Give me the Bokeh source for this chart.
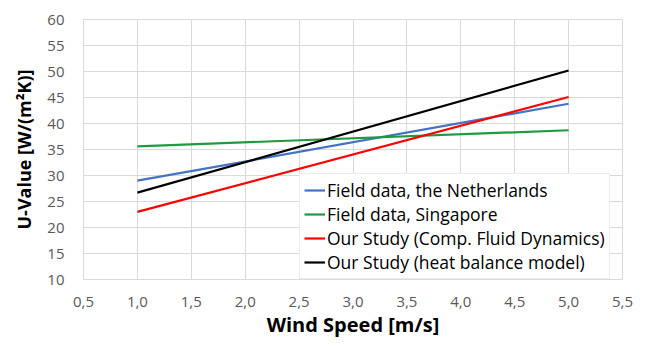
from bokeh.plotting import figure
from bokeh.models import FixedTicker, Range1d, Legend, LegendItem
from bokeh.embed import file_html
from bokeh.resources import INLINE

# ---- data ----
wind_speed = [1.0, 5.0]
netherlands = [29.0, 43.8]
singapore = [35.6, 38.7]
cfd = [23.0, 45.1]
heat_balance = [26.7, 50.2]

series_names = [
    "Field data, the Netherlands",
    "Field data, Singapore",
    "Our Study (Comp. Fluid Dynamics)",
    "Our Study (heat balance model)",
]

x_ticks = [0.5, 1.0, 1.5, 2.0, 2.5, 3.0, 3.5, 4.0, 4.5, 5.0, 5.5]
x_tick_labels = ["0,5", "1,0", "1,5", "2,0", "2,5", "3,0", "3,5", "4,0", "4,5", "5,0", "5,5"]
y_ticks = [10, 15, 20, 25, 30, 35, 40, 45, 50, 55, 60]

x_title = "Wind Speed [m/s]"
y_title = "U-Value [W/(m\u00b2K)]"

colors = ["#4472C4", "#1E9B3F", "#FF0000", "#000000"]

FONT = "Open Sans"

p = figure(width=649, height=345, output_backend="svg", toolbar_location=None,
           x_range=Range1d(0.5, 5.5), y_range=Range1d(10, 60),
           min_border_left=83, min_border_right=27, min_border_top=19, min_border_bottom=66)

p.background_fill_color = "white"
p.border_fill_color = "white"
p.outline_line_color = "#d9d9d9"
p.outline_line_width = 1

for ax in (p.xaxis[0], p.yaxis[0]):
    ax.axis_line_color = None
    ax.major_tick_line_color = None
    ax.minor_tick_line_color = None
    ax.major_tick_out = 0
    ax.major_tick_in = 0
    ax.minor_tick_out = 0
    ax.minor_tick_in = 0
    ax.major_label_text_color = "#595959"
    ax.major_label_text_font = FONT
    ax.major_label_text_font_size = "15px"
    ax.axis_label_text_font = FONT
    ax.axis_label_text_font_style = "bold"
    ax.axis_label_text_color = "#000000"

p.xaxis.ticker = FixedTicker(ticks=x_ticks)
p.xaxis.major_label_overrides = dict(zip(x_ticks, x_tick_labels))
p.xaxis.major_label_standoff = 17
p.xaxis.axis_label = x_title
p.xaxis.axis_label_text_font_size = "20px"
p.xaxis.axis_label_standoff = 1

p.yaxis.ticker = FixedTicker(ticks=y_ticks)
p.yaxis.major_label_standoff = 19
p.yaxis.axis_label = y_title
p.yaxis.axis_label_text_font_size = "18px"
p.yaxis.axis_label_standoff = 8

p.xgrid.grid_line_color = "#d9d9d9"
p.ygrid.grid_line_color = "#d9d9d9"
p.xgrid.grid_line_width = 1
p.ygrid.grid_line_width = 1

items = []
for name, ys, c in zip(series_names, [netherlands, singapore, cfd, heat_balance], colors):
    r = p.line(wind_speed, ys, line_color=c, line_width=2.2)
    items.append(LegendItem(label=name, renderers=[r]))

legend = Legend(items=items, location=(216, 0))
legend.label_text_font = FONT
legend.label_text_font_size = "17.5px"
legend.label_text_color = "#000000"
legend.border_line_color = "#d9d9d9"
legend.border_line_width = 1
legend.background_fill_color = "white"
legend.background_fill_alpha = 1.0
legend.glyph_width = 21
legend.label_standoff = 2
legend.label_height = 24
legend.glyph_height = 24
legend.spacing = 0
legend.padding = 4
legend.margin = 0
p.add_layout(legend, "center")

open("out.html", "w").write(file_html(p, INLINE))
